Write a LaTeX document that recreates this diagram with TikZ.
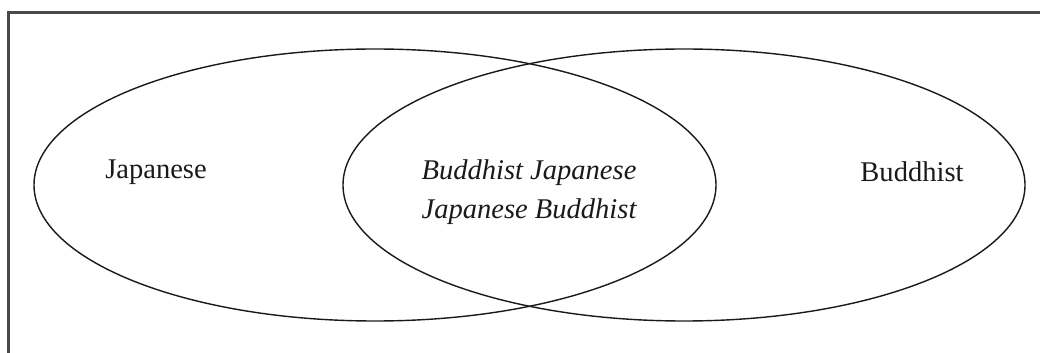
\documentclass[tikz,border=0pt]{standalone}
\usepackage{fontspec}
\setmainfont{Liberation Serif}
\usetikzlibrary{positioning}
\definecolor{vnInk}{HTML}{1A1A1A}
\definecolor{vnFrame}{HTML}{4A4A4A}
\tikzset{
  vn frame/.style={draw=vnFrame, line width=1.6pt},
  vn set/.style={draw=vnInk, line width=1pt},
  vn label/.style={font=\fontsize{20.3}{26}\selectfont, text=vnInk},
  vn overlap/.style={vn label, font=\fontsize{20.3}{28}\selectfont\itshape, align=center}
}
\begin{document}
\begin{tikzpicture}[x=0.025cm,y=-0.025cm]
  \useasboundingbox (0,0) rectangle (1040,353);
  \draw[vn frame] (8.5,353) -- (8.5,12.5) -- (1040,12.5);

  \draw[vn set] (375,185) ellipse[x radius=341, y radius=136];
  \draw[vn set] (684,185) ellipse[x radius=341, y radius=136];

  \node[vn label] (japanese) at (156,172) {Japanese};
  \node[vn label] (buddhist) at (912,172) {Buddhist};
  \node[vn overlap] (both) at (529,192) {Buddhist Japanese\\Japanese Buddhist};
\end{tikzpicture}
\end{document}
